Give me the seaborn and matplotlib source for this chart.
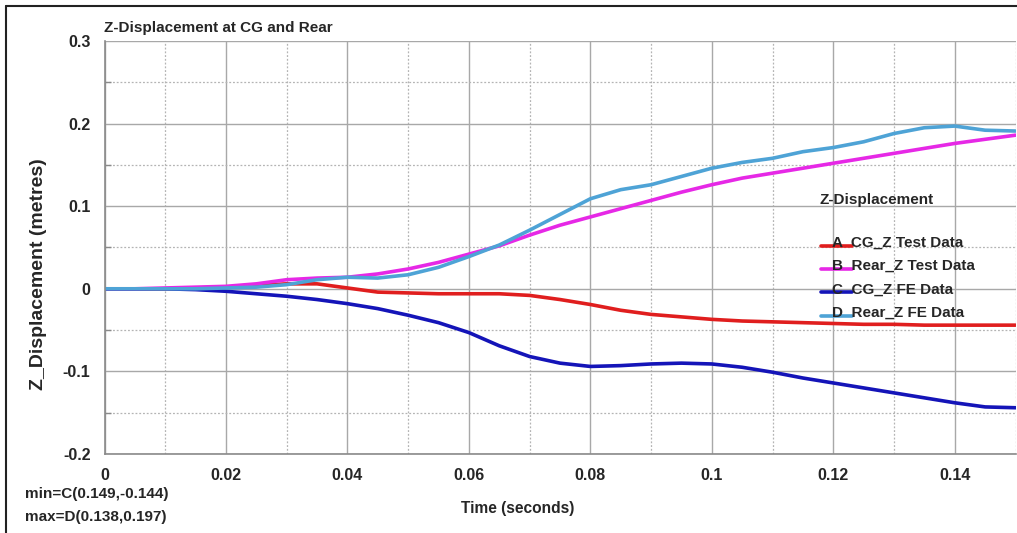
import numpy as np
import pandas as pd
import seaborn as sns
import matplotlib
matplotlib.use("Agg")
import matplotlib.pyplot as plt
from matplotlib.lines import Line2D
from matplotlib.legend_handler import HandlerLine2D
from matplotlib.ticker import MultipleLocator, FixedLocator

# Time samples (s)
time_s = [0.000, 0.005, 0.010, 0.015, 0.020, 0.025, 0.030, 0.035, 0.040, 0.045,
          0.050, 0.055, 0.060, 0.065, 0.070, 0.075, 0.080, 0.085, 0.090, 0.095,
          0.100, 0.105, 0.110, 0.115, 0.120, 0.125, 0.130, 0.135, 0.140, 0.145,
          0.150]

# Z displacement (m)
cg_z_test = [0.000, 0.000, 0.000, 0.001, 0.002, 0.004, 0.006, 0.006, 0.001, -0.004,
             -0.005, -0.006, -0.006, -0.006, -0.008, -0.013, -0.019, -0.026, -0.031, -0.034,
             -0.037, -0.039, -0.040, -0.041, -0.042, -0.043, -0.043, -0.044, -0.044, -0.044,
             -0.044]
rear_z_test = [0.000, 0.000, 0.001, 0.002, 0.003, 0.006, 0.011, 0.013, 0.014, 0.018,
               0.024, 0.032, 0.042, 0.052, 0.065, 0.077, 0.087, 0.097, 0.107, 0.117,
               0.126, 0.134, 0.140, 0.146, 0.152, 0.158, 0.164, 0.170, 0.176, 0.181,
               0.186]
cg_z_fe = [0.000, 0.000, 0.000, -0.001, -0.003, -0.006, -0.009, -0.013, -0.018, -0.024,
           -0.032, -0.041, -0.053, -0.069, -0.082, -0.090, -0.094, -0.093, -0.091, -0.090,
           -0.091, -0.095, -0.101, -0.108, -0.114, -0.120, -0.126, -0.132, -0.138, -0.143,
           -0.144]
rear_z_fe = [0.000, 0.000, 0.000, 0.000, 0.001, 0.002, 0.005, 0.011, 0.014, 0.013,
             0.017, 0.026, 0.039, 0.053, 0.071, 0.090, 0.109, 0.120, 0.126, 0.136,
             0.146, 0.153, 0.158, 0.166, 0.171, 0.178, 0.188, 0.195, 0.197, 0.192,
             0.191]

series_names = ["A  CG_Z Test Data", "B  Rear_Z Test Data",
                "C  CG_Z FE Data", "D  Rear_Z FE Data"]
series_values = [cg_z_test, rear_z_test, cg_z_fe, rear_z_fe]
series_colors = ["#e01e1e", "#e628e6", "#1414b8", "#4ea3d6"]

x_ticks = [0, 0.02, 0.04, 0.06, 0.08, 0.1, 0.12, 0.14]
x_tick_labels = ["0", "0.02", "0.04", "0.06", "0.08", "0.1", "0.12", "0.14"]
y_ticks = [-0.2, -0.1, 0, 0.1, 0.2, 0.3]
y_tick_labels = ["-0.2", "-0.1", "0", "0.1", "0.2", "0.3"]

df = pd.concat(
    [pd.DataFrame({"time": time_s, "z": vals, "series": name})
     for name, vals in zip(series_names, series_values)],
    ignore_index=True,
)

sns.set_style("white")
plt.rcParams["font.family"] = ["Liberation Sans", "DejaVu Sans"]
plt.rcParams["font.weight"] = "bold"
plt.rcParams["font.size"] = 11

W, H = 1017, 533
fig = plt.figure(figsize=(W / 100, H / 100), dpi=100)
ax = fig.add_axes([104.5 / W, (H - 454) / H, 911 / W, 413 / H])

sns.lineplot(data=df, x="time", y="z", hue="series", hue_order=series_names,
             palette=series_colors, linewidth=2.6, ax=ax, legend=False,
             estimator=None, sort=False)

ax.set_xlim(0, 0.15)
ax.set_ylim(-0.2, 0.3)
ax.xaxis.set_major_locator(FixedLocator(x_ticks))
ax.set_xticklabels(x_tick_labels)
ax.yaxis.set_major_locator(FixedLocator(y_ticks))
ax.set_yticklabels(y_tick_labels)
ax.xaxis.set_minor_locator(MultipleLocator(0.01))
ax.yaxis.set_minor_locator(MultipleLocator(0.05))

ax.grid(which="major", color="#a8a8a8", linewidth=1.0, linestyle="-")
ax.grid(which="minor", color="#b4b4b4", linewidth=0.9, linestyle=(0, (1.5, 1.5)))
ax.set_axisbelow(True)

for side in ["top", "right"]:
    ax.spines[side].set_visible(False)
for side in ["left", "bottom"]:
    ax.spines[side].set_color("#8a8a8a")
    ax.spines[side].set_linewidth(1.2)

ax.tick_params(which="major", direction="out", length=8, width=1.0,
               color="#8a8a8a", labelsize=11.5, pad=2)
ax.tick_params(axis="y", which="minor", direction="in", length=4, width=1.0,
               color="#8a8a8a", left=True)
ax.tick_params(axis="x", which="minor", bottom=False)
for lab in ax.get_xticklabels() + ax.get_yticklabels():
    lab.set_fontweight("bold")

ax.set_xlabel("")
ax.set_ylabel("")
fig.text(518 / W, 1 - 509 / H, "Time (seconds)", ha="center", va="center",
         fontsize=11.2, fontweight="bold")
fig.text(39 / W, 1 - 274 / H, "Z_Displacement (metres)", ha="center", va="center",
         rotation=90, fontsize=14, fontweight="bold")
fig.text(104 / W, 1 - 28 / H, "Z-Displacement at CG and Rear", ha="left",
         va="center", fontsize=11, fontweight="bold")
fig.text(25 / W, 1 - 494 / H, "min=C(0.149,-0.144)", ha="left", va="center",
         fontsize=11, fontweight="bold")
fig.text(25 / W, 1 - 517 / H, "max=D(0.138,0.197)", ha="left", va="center",
         fontsize=11, fontweight="bold")


class LowLineHandler(HandlerLine2D):
    """Legend line drawn along the text baseline, under the series letter."""

    def create_artists(self, legend, orig_handle, xdescent, ydescent,
                       width, height, fontsize, trans):
        artists = super().create_artists(legend, orig_handle, xdescent, ydescent,
                                          width, height, fontsize, trans)
        for a in artists:
            if isinstance(a, Line2D):
                y = np.asarray(a.get_ydata(), dtype=float)
                a.set_ydata(y - 0.42 * height)
        return artists


# Legend heading placed on its own, entries below it
ax.text(0.785, 0.615, "Z-Displacement", transform=ax.transAxes, ha="left",
        va="center", fontsize=11, fontweight="bold")

handles = [Line2D([0], [0], color=c, linewidth=2.6) for c in series_colors]
leg = ax.legend(handles, series_names,
                loc="upper left", bbox_to_anchor=(0.786, 0.528),
                frameon=False, handlelength=2.05, handletextpad=-1.3,
                labelspacing=0.6, borderpad=0, borderaxespad=0,
                prop={"weight": "bold", "size": 11},
                handler_map={Line2D: LowLineHandler()})

# Page frame along the left and top edges
fig.add_artist(Line2D([5.5 / W, 5.5 / W], [0, 1 - 5.5 / H], color="#222222",
                      linewidth=1.5, transform=fig.transFigure))
fig.add_artist(Line2D([5.5 / W, 1], [1 - 5.5 / H, 1 - 5.5 / H], color="#222222",
                      linewidth=1.5, transform=fig.transFigure))

fig.savefig("out.png", dpi=100)
